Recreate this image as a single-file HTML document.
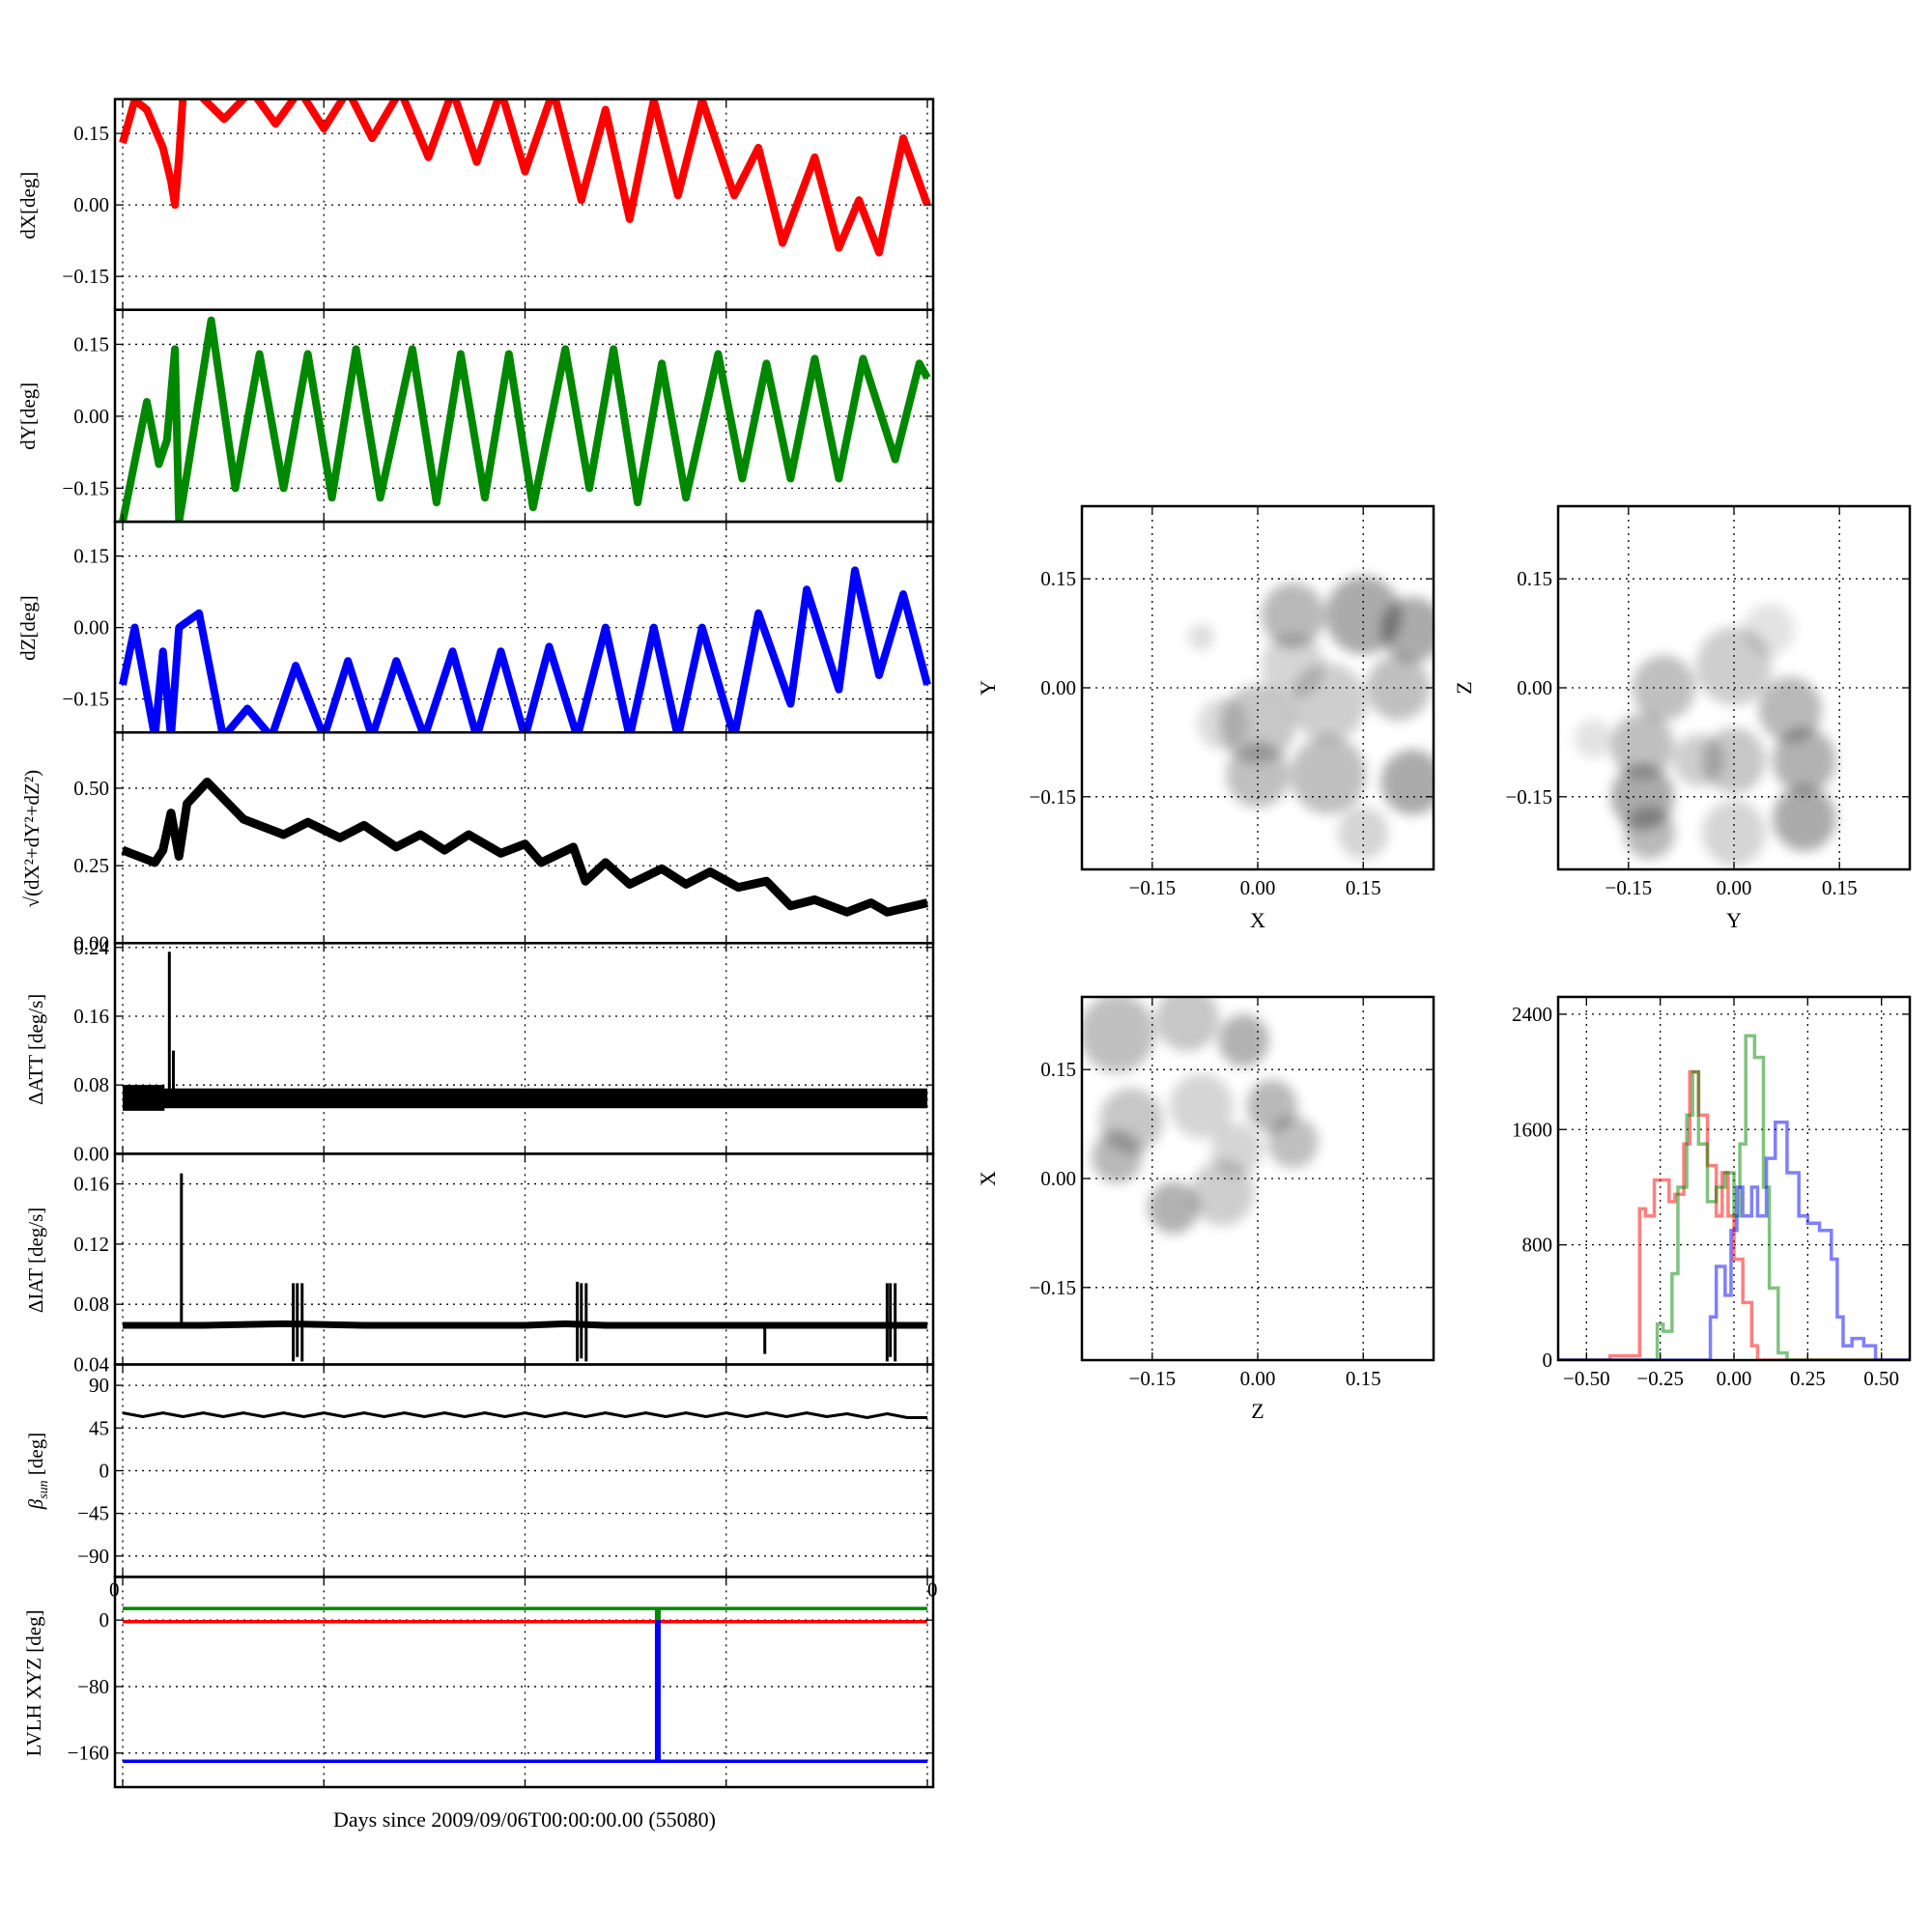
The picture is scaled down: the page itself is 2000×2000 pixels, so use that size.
<!DOCTYPE html>
<html><head><meta charset="utf-8">
<style>
html,body{margin:0;padding:0;background:#fff;}
svg{display:block;font-family:"Liberation Serif",serif;}
</style></head>
<body>
<svg id="fig" width="2000" height="2000" viewBox="0 0 2000 2000" xmlns="http://www.w3.org/2000/svg">
<defs>
<filter id="blur" x="-50%" y="-50%" width="200%" height="200%"><feGaussianBlur stdDeviation="6"/></filter>
</defs>
<g id="root"></g>
<text x="543" y="1891" font-size="22" text-anchor="middle">Days since 2009/09/06T00:00:00.00 (55080)</text>
</svg>
<script>
// ---- time series data (x in 0..100 of the day span) ----
const dxT=[0,1.5,3,5,6,6.5,7,7.5,9,12.6,16,19,22,25,28,31,34.5,38,41,44,47,50,53.5,57,60,63,66,69,72,76,79,82,86,89,91.5,94,97,100];
const dxV=[0.13,0.22,0.2,0.12,0.05,0.0,0.1,0.23,0.24,0.18,0.24,0.17,0.24,0.16,0.24,0.14,0.24,0.1,0.24,0.09,0.24,0.07,0.24,0.01,0.2,-0.03,0.22,0.02,0.22,0.02,0.12,-0.08,0.1,-0.09,0.01,-0.1,0.14,0.0];
const dyT=[0,3,4.5,5.5,6.5,7,8,11,14,17,20,23,26,29,32,36,39,42,45,48,51,55,58,61,64,67,70,74,77,80,83,86,89,92,96,99,100];
const dyV=[-0.22,0.03,-0.1,-0.05,0.14,-0.22,-0.12,0.2,-0.15,0.13,-0.15,0.13,-0.17,0.14,-0.17,0.14,-0.18,0.13,-0.17,0.13,-0.19,0.14,-0.15,0.14,-0.18,0.11,-0.17,0.13,-0.13,0.11,-0.13,0.12,-0.13,0.12,-0.09,0.11,0.08];
const dzT=[0,1.5,4,5,6,7,9.5,12.5,15.5,18.5,21.5,25,28,31,34,37.5,41,44,47,50,53,56.5,60,63,66,69,72,76,79,83,85,89,91,94,97,100];
const dzV=[-0.12,0.0,-0.23,-0.05,-0.23,0.0,0.03,-0.23,-0.17,-0.23,-0.08,-0.23,-0.07,-0.23,-0.07,-0.23,-0.05,-0.23,-0.05,-0.23,-0.04,-0.23,0.0,-0.23,0.0,-0.23,0.0,-0.23,0.03,-0.16,0.08,-0.13,0.12,-0.1,0.07,-0.12];
const rT=[0,4,5,6,7,8,10.5,15,17,20,23,27,30,34,37,40,43,47,50,52,56,57.5,60,63,67,70,73,76.5,80,83,86,90,93,95,100];
const rV=[0.3,0.26,0.3,0.42,0.28,0.45,0.52,0.4,0.38,0.35,0.39,0.34,0.38,0.31,0.35,0.3,0.35,0.29,0.32,0.26,0.31,0.2,0.26,0.19,0.24,0.19,0.23,0.18,0.2,0.12,0.14,0.1,0.13,0.1,0.13];
const attBandT=[0,5.2,5.2,100];
const attBandLo=[0.05,0.05,0.053,0.053];
const attBandHi=[0.08,0.08,0.076,0.076];
const attSpikeT=[5.8,6.3];
const attSpikeV=[0.235,0.12];
const iatT=[0,10,20,30,40,50,55,60,70,80,90,100];
const iatV=[0.066,0.066,0.067,0.066,0.066,0.066,0.067,0.066,0.066,0.066,0.066,0.066];
const iatSpikeT=[7.3,21.2,21.7,22.3,56.5,57,57.6,79.8,95,95.4,96];
const iatSpikeLo=[0.066,0.042,0.045,0.042,0.042,0.044,0.042,0.047,0.042,0.045,0.042];
const iatSpikeHi=[0.167,0.094,0.094,0.094,0.095,0.094,0.094,0.066,0.094,0.094,0.094];
const betaT=[0,2.5,5,7.5,10,12.5,15,17.5,20,22.5,25,27.5,30,32.5,35,37.5,40,42.5,45,47.5,50,52.5,55,57.5,60,62.5,65,67.5,70,72.5,75,77.5,80,82.5,85,87.5,90,92.5,95,97.5,100];
const betaV=[61,57,61,57,61,57,61,57,61,57,61,57,61,57,61,57,61,57,61,57,61,57,61,57,61,57,61,57,61,57,61,57,61,57,61,57,60,56,60,56,56];
const lvT=[0,100];
const lvGreen=[14,14];
const lvRed=[-2,-2];
const lvBlue=[-170,-170];
const lvJumpT=66.5;
const xTicks=[0,25,50,75,100];
// ---- histogram data ----
const hRx=[-0.42,-0.32,-0.3,-0.27,-0.22,-0.2,-0.17,-0.15,-0.12,-0.09,-0.06,-0.04,-0.02,0.0,0.03,0.06,0.08,0.1];
const hRv=[30,1050,1000,1250,1100,1150,1500,2000,1700,1350,1000,1300,1000,700,400,100,0,0];
const hGx=[-0.26,-0.24,-0.21,-0.19,-0.16,-0.14,-0.12,-0.09,-0.06,-0.03,0.0,0.02,0.04,0.07,0.1,0.12,0.15,0.18,0.2];
const hGv=[250,200,600,1200,1700,2000,1500,1100,1200,1300,1000,1500,2250,2100,1200,500,50,0,0];
const hBx=[-0.08,-0.06,-0.03,-0.01,0.01,0.03,0.06,0.08,0.11,0.14,0.18,0.22,0.25,0.29,0.33,0.35,0.37,0.4,0.44,0.48,0.5];
const hBv=[300,650,450,900,1200,1000,1200,1000,1400,1650,1300,1000,950,900,700,300,100,150,100,0,0];
// ---- scatter density clusters (x, y, radius, density) ----
const sAx=[0.05,0.15,0.22,0.0,0.1,0.2,0.0,0.1,0.22,0.15,-0.05,-0.08,0.05];
const sAy=[0.1,0.1,0.08,-0.05,-0.02,0.0,-0.12,-0.12,-0.13,-0.2,-0.05,0.07,0.03];
const sAr=[0.05,0.06,0.05,0.06,0.06,0.05,0.05,0.06,0.05,0.04,0.04,0.02,0.05];
const sAd=[0.5,0.6,0.6,0.4,0.35,0.45,0.45,0.45,0.6,0.3,0.25,0.25,0.3];
const sBx=[-0.13,-0.13,-0.12,-0.1,0.0,0.08,0.1,0.1,0.0,-0.05,-0.2,0.0,0.05];
const sBy=[-0.15,-0.08,-0.2,0.0,0.03,-0.03,-0.1,-0.18,-0.1,-0.1,-0.07,-0.2,0.08];
const sBr=[0.05,0.05,0.04,0.05,0.06,0.05,0.05,0.05,0.05,0.04,0.03,0.05,0.04];
const sBd=[0.6,0.45,0.5,0.45,0.35,0.5,0.55,0.6,0.4,0.35,0.2,0.3,0.2];
const sCx=[-0.2,-0.1,-0.02,-0.18,-0.2,-0.08,0.02,0.05,-0.12,-0.05,-0.03];
const sCy=[0.2,0.22,0.19,0.08,0.03,0.1,0.1,0.05,-0.04,-0.02,0.04];
const sCr=[0.06,0.05,0.04,0.05,0.04,0.05,0.04,0.04,0.04,0.05,0.04];
const sCd=[0.45,0.4,0.55,0.4,0.5,0.3,0.5,0.45,0.55,0.35,0.3];

const NS="http://www.w3.org/2000/svg";
const root=document.getElementById('root');
function el(tag,attrs,parent){const e=document.createElementNS(NS,tag);for(const k in attrs)e.setAttribute(k,attrs[k]);(parent||root).appendChild(e);return e;}

function makeAxes(L,T,W,H,xmin,xmax,ymin,ymax,name){
  const sx=v=>L+(v-xmin)/(xmax-xmin)*W;
  const sy=v=>T+H-(v-ymin)/(ymax-ymin)*H;
  const g=el('g',{});
  
  
  const cid='c'+name;
  const cp=el('clipPath',{id:cid},g);el('rect',{x:L,y:T,width:W,height:H},cp);
  const grid=el('g',{},g);
  const plot=el('g',{'clip-path':'url(#'+cid+')'},g);
  const top=el('g',{},g);
  return {sx,sy,g,grid,plot,top,L,T,W,H};
}
function gridTicks(ax,xt,yt,xl,yl,fs){
  xt.forEach((v,i)=>{const x=ax.sx(v);
    const gl=el('line',{x1:x,x2:x,y1:ax.T,y2:ax.T+ax.H,stroke:'#000','stroke-width':1.3,'stroke-dasharray':'2,5'},ax.grid);
    
    el('line',{x1:x,x2:x,y1:ax.T+ax.H,y2:ax.T+ax.H-8,stroke:'#000','stroke-width':1.3},ax.top);
    el('line',{x1:x,x2:x,y1:ax.T,y2:ax.T+8,stroke:'#000','stroke-width':1.3},ax.top);
    if(xl){const t=el('text',{x:x,y:ax.T+ax.H+26,'font-size':fs,'text-anchor':'middle'},ax.top);t.textContent=xl[i];
      }
  });
  yt.forEach((v,i)=>{const y=ax.sy(v);
    const gl=el('line',{x1:ax.L,x2:ax.L+ax.W,y1:y,y2:y,stroke:'#000','stroke-width':1.3,'stroke-dasharray':'2,5'},ax.grid);
    
    el('line',{x1:ax.L,x2:ax.L+8,y1:y,y2:y,stroke:'#000','stroke-width':1.3},ax.top);
    el('line',{x1:ax.L+ax.W,x2:ax.L+ax.W-8,y1:y,y2:y,stroke:'#000','stroke-width':1.3},ax.top);
    const t=el('text',{x:ax.L-6,y:y+7,'font-size':fs,'text-anchor':'end'},ax.top);t.textContent=yl[i];
    
  });
  const f=el('rect',{x:ax.L,y:ax.T,width:ax.W,height:ax.H,fill:'none',stroke:'#000','stroke-width':2.5},ax.top);
  
}
function ylabel(x,y,txt,fs){const t=el('text',{x:x,y:y,'font-size':fs,'text-anchor':'middle',transform:'rotate(-90 '+x+' '+y+')'});t.textContent=txt;
  return t;}
function poly(ax,xs,ys,color,w,name){const pts=xs.map((x,i)=>ax.sx(x).toFixed(1)+','+ax.sy(ys[i]).toFixed(1)).join(' ');
  const p=el('polyline',{points:pts,fill:'none',stroke:color,'stroke-width':w,'stroke-linejoin':'round'},ax.plot);
  return p;}

const L=119,R=966,W=R-L,X0=127,X100=960;
const xmin=-(X0-L)/(X100-X0)*100,xmax=100+(R-X100)/(X100-X0)*100;
const PT=[102.6,320.7,540.1,758.2,976.3,1194.4,1412.5,1632.4,1850];
const fs=21;
function panel(i,ymin,ymax,name){return makeAxes(L,PT[i],W,PT[i+1]-PT[i],xmin,xmax,ymin,ymax,name);}

let a=panel(0,-0.22,0.222,'dx-panel');gridTicks(a,xTicks,[-0.15,0,0.15],null,['\u22120.15','0.00','0.15'],fs);
poly(a,dxT,dxV,'#f00',8,'dx-line');ylabel(36,PT[0]+110,'dX[deg]',21);
a=panel(1,-0.22,0.222,'dy-panel');gridTicks(a,xTicks,[-0.15,0,0.15],null,['\u22120.15','0.00','0.15'],fs);
poly(a,dyT,dyV,'#080',8,'dy-line');ylabel(36,PT[1]+110,'dY[deg]',21);
a=panel(2,-0.22,0.222,'dz-panel');gridTicks(a,xTicks,[-0.15,0,0.15],null,['\u22120.15','0.00','0.15'],fs);
poly(a,dzT,dzV,'#00f',8,'dz-line');ylabel(36,PT[2]+110,'dZ[deg]',21);
a=panel(3,0,0.68,'norm-panel');gridTicks(a,xTicks,[0,0.25,0.5],null,['0.00','0.25','0.50'],fs);
poly(a,rT,rV,'#000',9,'norm-line');
ylabel(40,PT[3]+110,'\u221A(dX\u00B2+dY\u00B2+dZ\u00B2)',21);
a=panel(4,0,0.245,'att-panel');gridTicks(a,xTicks,[0,0.08,0.16,0.24],null,['0.00','0.08','0.16','0.24'],fs);
{const up=attBandT.map((t,i)=>a.sx(t)+','+a.sy(attBandHi[i]));const dn=attBandT.map((t,i)=>a.sx(t)+','+a.sy(attBandLo[i])).reverse();
 const p=el('polygon',{points:up.concat(dn).join(' '),fill:'#000'},a.plot);}
attSpikeT.forEach((t,i)=>{const l=el('line',{x1:a.sx(t),x2:a.sx(t),y1:a.sy(0.065),y2:a.sy(attSpikeV[i]),stroke:'#000','stroke-width':3},a.plot);
 });
ylabel(44,PT[4]+110,'\u0394ATT [deg/s]',21);
a=panel(5,0.04,0.18,'iat-panel');gridTicks(a,xTicks,[0.04,0.08,0.12,0.16],null,['0.04','0.08','0.12','0.16'],fs);
poly(a,iatT,iatV,'#000',7,'iat-line');
iatSpikeT.forEach((t,i)=>{const l=el('line',{x1:a.sx(t),x2:a.sx(t),y1:a.sy(iatSpikeLo[i]),y2:a.sy(iatSpikeHi[i]),stroke:'#000','stroke-width':3},a.plot);
 });
ylabel(44,PT[5]+110,'\u0394IAT [deg/s]',21);
a=panel(6,-112,112,'beta-panel');gridTicks(a,xTicks,[-90,-45,0,45,90],null,['\u221290','\u221245','0','45','90'],fs);
poly(a,betaT,betaV,'#000',3,'beta-line');
{const t=ylabel(44,PT[6]+110,'',21);t.innerHTML='<tspan font-style="italic">\u03B2</tspan><tspan font-style="italic" font-size="14" dy="5">sun</tspan><tspan dy="-5"> [deg]</tspan>';}
a=panel(7,-201,52,'lvlh-panel');gridTicks(a,xTicks,[-160,-80,0],null,['\u2212160','\u221280','0'],fs);
poly(a,lvT,lvGreen,'#080',3.5,'lvlh-y-line');poly(a,lvT,lvRed,'#f00',3.5,'lvlh-x-line');poly(a,lvT,lvBlue,'#00f',3.5,'lvlh-z-line');
{const l=el('line',{x1:a.sx(lvJumpT),x2:a.sx(lvJumpT),y1:a.sy(lvBlue[0]),y2:a.sy(0),stroke:'#00f','stroke-width':6},a.plot);
 const l2=el('line',{x1:a.sx(lvJumpT),x2:a.sx(lvJumpT),y1:a.sy(0),y2:a.sy(lvGreen[0]),stroke:'#080','stroke-width':6},a.plot);}
ylabel(42,PT[7]+110,'LVLH XYZ [deg]',21);
{const t=el('text',{x:L-6,y:PT[7]+20,'font-size':fs});t.textContent='0';const t2=el('text',{x:R-6,y:PT[7]+20,'font-size':fs});t2.textContent='0';}

function scatter(L0,T0,xs,ys,rs,ds,xl,yl,name){
  const ax=makeAxes(L0,T0,364,376,-0.25,0.25,-0.25,0.25,name);
  const gg=el('g',{filter:'url(#blur)'},ax.plot);
  xs.forEach((x,i)=>{const c=el('ellipse',{cx:ax.sx(x),cy:ax.sy(ys[i]),rx:rs[i]/0.5*364*0.9,ry:rs[i]/0.5*376*0.9,fill:'#000','fill-opacity':ds[i]*0.55},gg);
    });
  gridTicks(ax,[-0.15,0,0.15],[-0.15,0,0.15],['\u22120.15','0.00','0.15'],['\u22120.15','0.00','0.15'],fs);
  const t=el('text',{x:L0+182,y:T0+376+60,'font-size':22,'text-anchor':'middle'});t.textContent=xl;
  ylabel(L0-90,T0+188,yl,22);
}
scatter(1120,524,sAx,sAy,sAr,sAd,'X','Y','scatter-xy');
scatter(1613,524,sBx,sBy,sBr,sBd,'Y','Z','scatter-yz');
scatter(1120,1032,sCx,sCy,sCr,sCd,'Z','X','scatter-zx');

{const ax=makeAxes(1613,1032,364,376,-0.596,0.596,0,2520,'histogram');
 gridTicks(ax,[-0.5,-0.25,0,0.25,0.5],[0,800,1600,2400],['\u22120.50','\u22120.25','0.00','0.25','0.50'],['0','800','1600','2400'],fs);
 function step(xs,vs,color,name){let d='M'+ax.sx(-0.6)+','+ax.sy(0)+' L'+ax.sx(xs[0])+','+ax.sy(0);
   xs.forEach((x,i)=>{const xn=i+1<xs.length?xs[i+1]:0.6;d+=' L'+ax.sx(x)+','+ax.sy(vs[i])+' L'+ax.sx(xn)+','+ax.sy(vs[i]);});
   d+=' L'+ax.sx(0.6)+','+ax.sy(0);
   const p=el('path',{d:d,fill:'none',stroke:color,'stroke-width':3.5,'stroke-opacity':0.5},ax.plot);}
 step(hRx,hRv,'#f00','hist-x');step(hGx,hGv,'#080','hist-y');step(hBx,hBv,'#00f','hist-z');}
</script>
</body></html>
